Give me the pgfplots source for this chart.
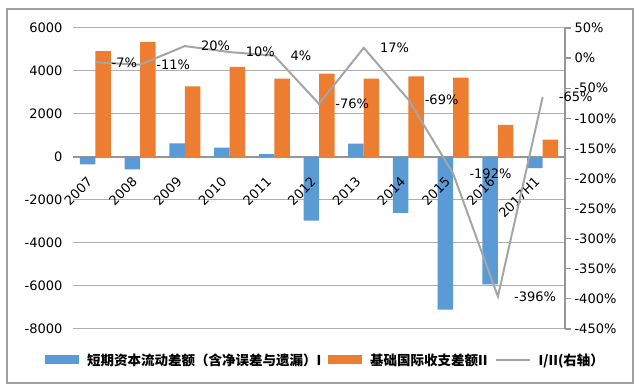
\documentclass[border=0pt]{standalone}
\usepackage{pgfplots}
\pgfplotsset{compat=1.18}
\usepackage{fontspec}
\setmainfont{DejaVu Sans}
\newfontfamily\cjk{Noto Sans CJK SC}
\definecolor{cI}{RGB}{91,155,213}
\definecolor{cII}{RGB}{237,125,49}
\definecolor{cL}{RGB}{165,165,165}
\definecolor{gridc}{RGB}{175,175,175}
\definecolor{axc}{RGB}{150,150,150}
\definecolor{framec}{RGB}{160,160,160}
\pgfplotsset{
  common/.style={at={(73pt,61pt)}, anchor=south west, width=492pt, height=301pt, scale only axis,
    xmin=-0.5, xmax=10.5,
    tick label style={font=\fontsize{13}{15}\selectfont}},
}
\begin{document}
\begin{tikzpicture}[x=1pt,y=1pt]
\useasboundingbox (0,0) rectangle (639,390);
\draw[line width=1.3pt, framec] (7,7) rectangle (633,381);
\begin{axis}[
  common,
  ymin=-8000, ymax=6000,
  ytick={-8000,-6000,...,6000},
  xtick={0,...,10},
  xticklabels={},
  axis x line*=middle, axis y line*=left,
  y axis line style={draw=none},
  x axis line style={draw=axc, line width=1.2pt, -},
  ymajorgrids, grid style={draw=gridc, line width=1pt},
  tick style={draw=none},
  hide obscured x ticks=false, hide obscured y ticks=false,
  yticklabel={\pgfmathprintnumber[assume math mode=true,1000 sep={}]{\tick}},
  yticklabel style={xshift=-7pt},
  legend columns=-1,
  legend style={at={(-0.0569,-0.103)}, anchor=west, draw=none, fill=none,
    inner sep=0pt, outer sep=0pt,
    font=\cjk\bfseries\fontsize{13.5}{15}\selectfont,
    /tikz/every odd column/.append style={column sep=6pt},
    /tikz/every even column/.append style={column sep=5pt}},
]
\addplot[ybar, bar width=15.5pt, bar shift=-7.75pt, fill=cI, draw=none,
  legend image code/.code={\path[fill=cI] (0pt,-4.5pt) rectangle (34pt,4.5pt);}]
  coordinates {(0,-340) (1,-570) (2,630) (3,440) (4,130) (5,-2960) (6,620) (7,-2600) (8,-7100) (9,-5920) (10,-520)};
\addlegendentry{短期资本流动差额（含净误差与遗漏）I}
\addplot[ybar, bar width=15.5pt, bar shift=7.75pt, fill=cII, draw=none,
  legend image code/.code={\path[fill=cII] (0pt,-4.5pt) rectangle (34pt,4.5pt);}]
  coordinates {(0,4930) (1,5350) (2,3290) (3,4190) (4,3650) (5,3880) (6,3650) (7,3750) (8,3690) (9,1490) (10,810)};
\addlegendentry{基础国际收支差额II}
\addlegendimage{cL, line width=2pt, legend image code/.code={\draw[cL, line width=2pt] (0pt,0pt) -- (34pt,0pt);}}
\addlegendentry{I/II(右轴）}
\end{axis}
% x tick labels drawn over the bars
\begin{axis}[
  common,
  ymin=-8000, ymax=6000,
  xtick={0,...,10},
  xticklabels={2007,2008,2009,2010,2011,2012,2013,2014,2015,2016,2017H1},
  axis x line*=middle, axis y line=none,
  x axis line style={draw=none},
  tick style={draw=none},
  hide obscured x ticks=false,
  xticklabel style={yshift=-20pt, xshift=-3pt, rotate=45, anchor=east},
]
\end{axis}
\begin{axis}[
  common,
  ymin=-450, ymax=50,
  ytick={-450,-400,...,50},
  axis y line*=right, axis x line=none,
  y axis line style={draw=axc, line width=1.2pt, -},
  ytick style={draw=axc, line width=1.2pt},
  tick align=outside, major tick length=6pt,
  yticklabel={\pgfmathprintnumber[assume math mode=true]{\tick}\%},
  clip=false,
]
\addplot[cL, line width=2pt, mark=none, point meta=y,
  nodes near coords={\pgfmathprintnumber[assume math mode=true,fixed,precision=0]{\pgfplotspointmeta}\%},
  every node near coord/.append style={anchor=west, xshift=12pt, text=black, font=\fontsize{13}{15}\selectfont}]
  coordinates {(0,-7) (1,-11) (2,20) (3,10) (4,4) (5,-76) (6,17) (7,-69) (8,-192) (9,-396) (10,-65)};
\end{axis}
\end{tikzpicture}
\end{document}
